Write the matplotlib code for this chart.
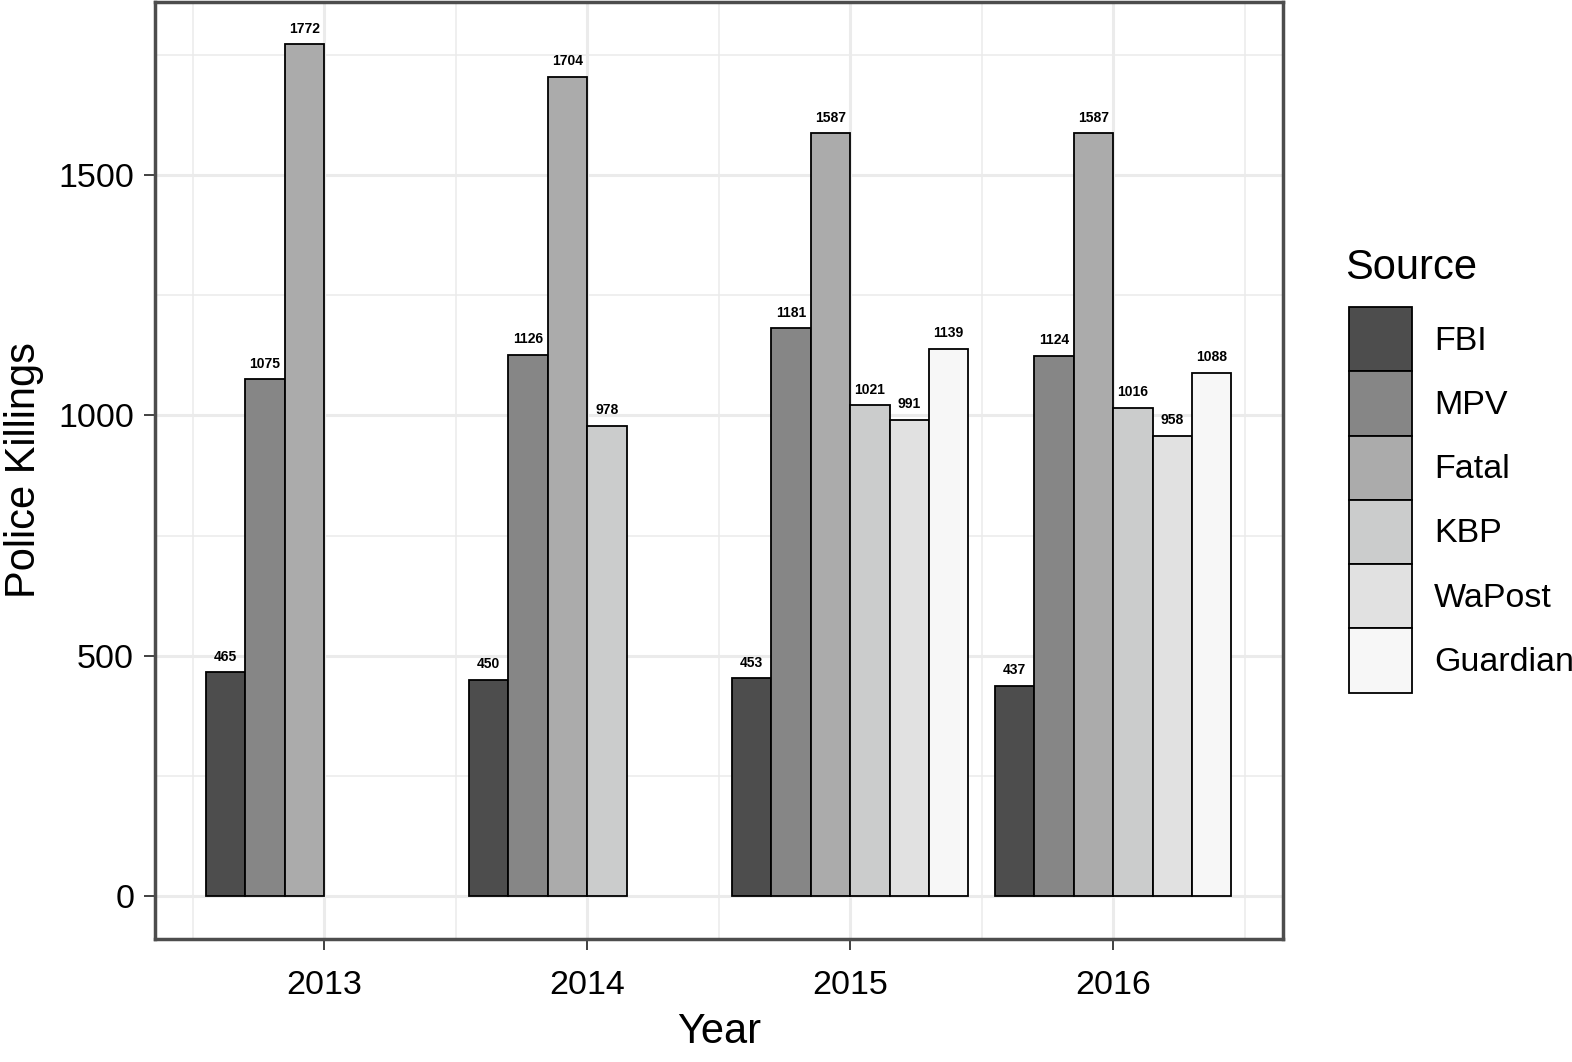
import numpy as np
import matplotlib
matplotlib.use('Agg')
import matplotlib.pyplot as plt
from matplotlib.patches import Patch

plt.rcParams['font.family'] = ['Liberation Sans', 'DejaVu Sans']

years = [2013, 2014, 2015, 2016]
sources = ['FBI', 'MPV', 'Fatal', 'KBP', 'WaPost', 'Guardian']
colors = ['#4d4d4d', '#868686', '#ababab', '#cbcccc', '#e1e1e1', '#f7f7f7']

# None = no data for that year
fbi = [465, 450, 453, 437]
mpv = [1075, 1126, 1181, 1124]
fatal = [1772, 1704, 1587, 1587]
kbp = [None, 978, 1021, 1016]
wapost = [None, None, 991, 958]
guardian = [None, None, 1139, 1088]
series = [fbi, mpv, fatal, kbp, wapost, guardian]

fig = plt.figure(figsize=(15.72, 10.62), dpi=100)
ax = fig.add_axes([155 / 1572, 1 - 939 / 1062, (1283 - 155) / 1572, (939 - 2) / 1062])

x = np.arange(len(years))
w = 0.15
for i, (vals, c) in enumerate(zip(series, colors)):
    for j, v in enumerate(vals):
        if v is None:
            continue
        xp = x[j] - 0.45 + w * (i + 0.5)
        ax.bar(xp, v, width=w, color=c, edgecolor='black', linewidth=1.3, zorder=3)
        ax.text(xp, v + 18, str(v), ha='center', va='bottom', fontsize=10,
                fontweight='bold', zorder=4)

ax.set_xlim(-0.643, 3.646)
ax.set_ylim(-89.5, 1860)

ax.set_xticks(x)
ax.set_xticklabels([str(y) for y in years])
ax.set_xticks(np.arange(-0.5, 4, 1), minor=True)
ax.set_yticks([0, 500, 1000, 1500])
ax.set_yticks([250, 750, 1250, 1750], minor=True)

ax.grid(which='major', color='#ebebeb', linewidth=2.2, zorder=0)
ax.grid(which='minor', color='#ebebeb', linewidth=1.1, zorder=0)
ax.set_axisbelow(True)

ax.tick_params(which='major', length=8, width=1.3, color='#333333',
               labelsize=24.5, pad=7, labelcolor='black')
ax.tick_params(axis='x', which='major', pad=14)
ax.tick_params(which='minor', length=0)
for s in ax.spines.values():
    s.set_color('#4d4d4d')
    s.set_linewidth(2.5)

ax.set_xlabel('Year', fontsize=30, labelpad=8)
ax.set_ylabel('Police Killings', fontsize=30, labelpad=10)

handles = [Patch(facecolor=c, edgecolor='black', linewidth=1.3, label=s)
           for s, c in zip(sources, colors)]
fig.text(1345 / 1572, 1 - 268 / 1062, 'Source', fontsize=30, va='center', ha='left')
leg = fig.legend(handles=handles, loc='upper left',
                 bbox_to_anchor=(1349 / 1572, 1 - 307 / 1062), frameon=False,
                 fontsize=24.5, handlelength=1.85, handleheight=2.53,
                 handletextpad=0.65, labelspacing=0.0, borderaxespad=0, borderpad=0)

fig.savefig('out.png', dpi=100)
